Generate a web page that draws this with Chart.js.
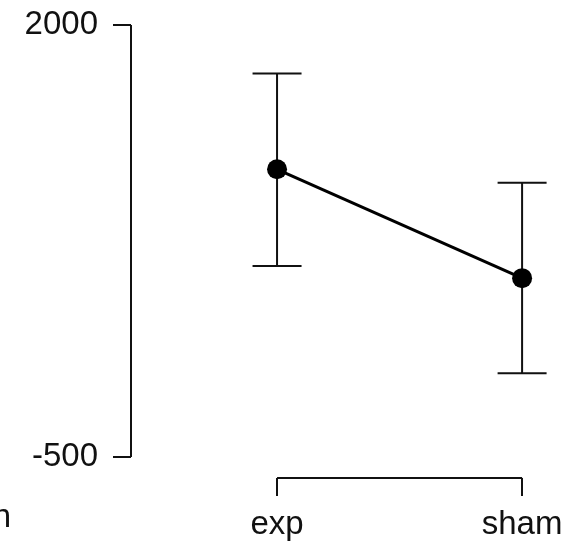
<!DOCTYPE html>
<html>
<head>
<meta charset="utf-8">
<script src="https://cdn.jsdelivr.net/npm/chart.js@4/dist/chart.umd.min.js"></script>
<style>
  html, body { margin: 0; padding: 0; background: #fff; }
  #chart { display: block; }
</style>
</head>
<body>
<canvas id="chart" width="576" height="542"></canvas>
<script>
'use strict';
let groups = ['exp', 'sham'];
let groupPos = [1, 2];
let means = [1165, 535];
let upper = [1720, 1087];
let lower = [605, -16];
let yTicks = [-500, 2000];
let sideText = 'n';

let fontFamily = '"Liberation Sans", Arial, sans-serif';
let ink = '#111';

// R-style axes: y line only from first to last tick, x bracket between the groups
let rAxes = {
  id: 'rAxes',
  afterDraw(chart) {
    let ctx = chart.ctx;
    let x = chart.scales.x;
    let y = chart.scales.y;
    let area = chart.chartArea;
    ctx.save();
    ctx.strokeStyle = ink;
    ctx.lineWidth = 2;
    ctx.beginPath();
    ctx.moveTo(area.left, y.getPixelForValue(yTicks[0]));
    ctx.lineTo(area.left, y.getPixelForValue(yTicks[yTicks.length - 1]));
    ctx.moveTo(x.getPixelForValue(groupPos[0]), area.bottom);
    ctx.lineTo(x.getPixelForValue(groupPos[groupPos.length - 1]), area.bottom);
    ctx.stroke();
    ctx.fillStyle = ink;
    ctx.font = '33px ' + fontFamily;
    ctx.textAlign = 'right';
    ctx.textBaseline = 'alphabetic';
    ctx.fillText(sideText, 11, 527);
    ctx.restore();
  }
};

// error bars with caps
let errorBars = {
  id: 'errorBars',
  beforeDatasetsDraw(chart) {
    let ctx = chart.ctx;
    let x = chart.scales.x;
    let y = chart.scales.y;
    ctx.save();
    ctx.strokeStyle = ink;
    ctx.lineWidth = 2;
    ctx.beginPath();
    for (let i = 0; i < groups.length; i++) {
      let px = x.getPixelForValue(groupPos[i]);
      let top = y.getPixelForValue(upper[i]);
      let bot = y.getPixelForValue(lower[i]);
      ctx.moveTo(px, top);
      ctx.lineTo(px, bot);
      ctx.moveTo(px - 24.5, top);
      ctx.lineTo(px + 24.5, top);
      ctx.moveTo(px - 24.5, bot);
      ctx.lineTo(px + 24.5, bot);
    }
    ctx.stroke();
    ctx.restore();
  }
};

let points = groups.map((g, i) => ({ x: groupPos[i], y: means[i] }));

// drop the label overhang padding so the plot area fills the canvas
function noPad(scale) {
  scale.paddingTop = 0;
  scale.paddingBottom = 0;
  scale.paddingLeft = 0;
  scale.paddingRight = 0;
}

new Chart(document.getElementById('chart'), {
  type: 'line',
  data: {
    datasets: [{
      data: points,
      borderColor: '#000',
      borderWidth: 3,
      pointRadius: 10,
      pointBackgroundColor: '#000',
      pointBorderColor: '#000',
      pointBorderWidth: 0,
      clip: false
    }]
  },
  options: {
    responsive: false,
    animation: false,
    layout: { padding: 0, autoPadding: false },
    plugins: {
      legend: { display: false },
      tooltip: { enabled: false }
    },
    scales: {
      x: {
        type: 'linear',
        min: 0.404,
        max: 2.22,
        afterBuildTicks: (scale) => { scale.ticks = groupPos.map(v => ({ value: v })); },
        afterFit: (scale) => { scale.height = 64; noPad(scale); },
        ticks: {
          color: ink,
          font: { family: fontFamily, size: 33 },
          padding: 9,
          maxRotation: 0,
          autoSkip: false,
          callback: (v) => groups[groupPos.indexOf(v)]
        },
        grid: { drawOnChartArea: false, drawTicks: true, tickLength: 18, color: ink, lineWidth: 2 },
        border: { display: false }
      },
      y: {
        min: -621.5,
        max: 2144.7,
        afterBuildTicks: (scale) => { scale.ticks = yTicks.map(v => ({ value: v })); },
        afterFit: (scale) => { scale.width = 131; noPad(scale); },
        ticks: {
          color: ink,
          font: { family: fontFamily, size: 33 },
          padding: 15,
          autoSkip: false,
          callback: (v) => String(v)
        },
        grid: { drawOnChartArea: false, drawTicks: true, tickLength: 18, color: ink, lineWidth: 2 },
        border: { display: false }
      }
    }
  },
  plugins: [errorBars, rAxes]
});
</script>
</body>
</html>
